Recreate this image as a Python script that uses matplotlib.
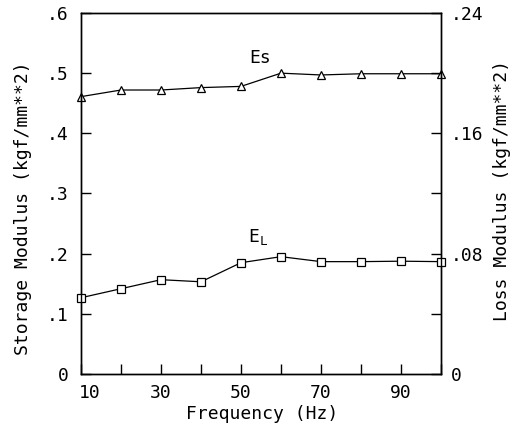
import matplotlib
matplotlib.use("Agg")
import matplotlib.pyplot as plt
import matplotlib.transforms as mtransforms

# Frequency sweep (Hz)
frequency = [10, 20, 30, 40, 50, 60, 70, 80, 90, 100]
# Storage modulus Es (kgf/mm**2), left axis
storage_modulus = [0.461, 0.472, 0.472, 0.476, 0.478, 0.500, 0.497, 0.499, 0.499, 0.499]
# Loss modulus EL (kgf/mm**2), right axis
loss_modulus = [0.0507, 0.0567, 0.0627, 0.0613, 0.0740, 0.0780, 0.0747, 0.0747, 0.0750, 0.0747]

x_ticks = [10, 20, 30, 40, 50, 60, 70, 80, 90, 100]
x_labels = ["10", "", "30", "", "50", "", "70", "", "90", ""]
left_ticks = [0, 0.1, 0.2, 0.3, 0.4, 0.5, 0.6]
left_labels = ["0", ".1", ".2", ".3", ".4", ".5", ".6"]
right_ticks = [0, 0.04, 0.08, 0.12, 0.16, 0.20, 0.24]
right_labels = ["0", "", ".08", "", ".16", "", ".24"]

plt.rcParams["font.family"] = ["DejaVu Sans Mono"]
fs = 13

fig = plt.figure(figsize=(5.21, 4.36), dpi=100)
ax = fig.add_axes([0.1555, 0.1422, 0.6909, 0.828])
ax2 = ax.twinx()

ax.plot(frequency, storage_modulus, color="black", lw=0.9,
        marker="^", markersize=5.5, markerfacecolor="white",
        markeredgecolor="black", markeredgewidth=0.9, clip_on=False)
ax2.plot(frequency, loss_modulus, color="black", lw=0.9,
         marker="s", markersize=5.5, markerfacecolor="white",
         markeredgecolor="black", markeredgewidth=0.9, clip_on=False)

ax.set_xlim(10, 100)
ax.set_ylim(0, 0.6)
ax2.set_ylim(0, 0.24)

ax.set_xticks(x_ticks)
ax.set_xticklabels(x_labels, fontsize=fs)
ax.set_yticks(left_ticks)
ax.set_yticklabels(left_labels, fontsize=fs)
ax2.set_yticks(right_ticks)
ax2.set_yticklabels(right_labels, fontsize=fs)

ax.tick_params(axis="both", direction="in", length=7, width=1)
ax.tick_params(axis="x", pad=7)
ax.tick_params(axis="y", pad=9)
ax.tick_params(axis="x", top=False)
ax2.tick_params(axis="y", direction="in", length=7, width=1, pad=7)

# nudge the first frequency label clear of the zero label
first = ax.get_xticklabels()[0]
first.set_transform(first.get_transform() +
                    mtransforms.ScaledTranslation(9 / 100, 0, fig.dpi_scale_trans))

for a in (ax, ax2):
    for s in a.spines.values():
        s.set_linewidth(1.0)

ax.set_xlabel("Frequency (Hz)", fontsize=fs)
ax.set_ylabel("Storage Modulus (kgf/mm**2)", fontsize=fs)
ax2.set_ylabel("Loss Modulus (kgf/mm**2)", fontsize=fs, rotation=90)
ax.xaxis.set_label_coords(0.503, -0.086)
ax.yaxis.set_label_coords(-0.136, 0.458)
ax2.yaxis.set_label_coords(1.145, 0.509)

ax.text(54.8, 0.525, "Es", fontsize=fs, ha="center", va="center")
ax.text(54.3, 0.228, "E$_\\mathregular{L}$", fontsize=fs, ha="center", va="center")

fig.savefig("out.png", dpi=100)
